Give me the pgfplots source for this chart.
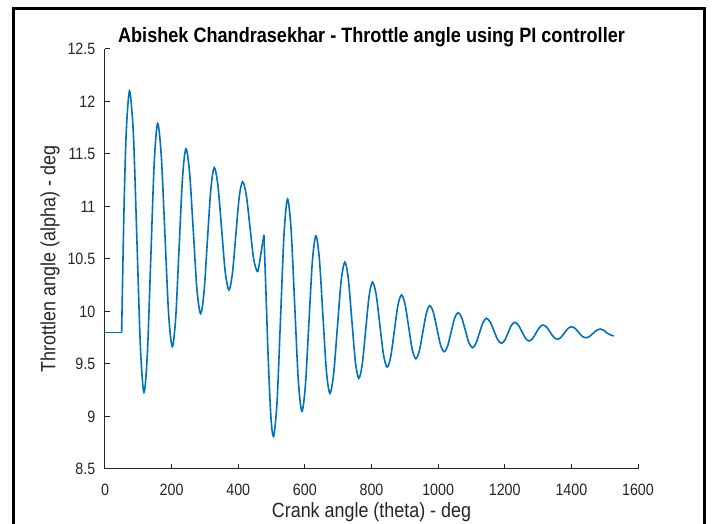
\documentclass[border=0pt]{standalone}
\usepackage{fontspec}
\setmainfont{Liberation Sans}[FakeStretch=0.87]
\usepackage{pgfplots}
\pgfplotsset{compat=1.18}
\definecolor{mlblue}{RGB}{0,114,189}
\definecolor{mlgray}{RGB}{38,38,38}

\begin{document}
\begin{tikzpicture}
\useasboundingbox (-52.5pt,-27.5pt) rectangle (304pt,234.5pt);
\fill[white] (-52.5pt,-27.5pt) rectangle (304pt,234.5pt);
\begin{axis}[
    at={(0,0)}, anchor=south west,
    scale only axis, width=266.5pt, height=210pt,
    xmin=0, xmax=1600, ymin=8.5, ymax=12.5,
    xtick={0,200,...,1600},
    ytick={8.5,9,9.5,10,10.5,11,11.5,12,12.5},
    axis lines=left,
    axis line style={-, mlgray, line width=0.5pt},
    tick style={mlgray, line width=0.5pt},
    tick align=inside, major tick length=2.5pt,
    scaled ticks=false,
    /pgf/number format/1000 sep={},
    /pgf/number format/assume math mode=true,
    tick label style={font=\fontsize{8.2}{9.8}\selectfont, text=mlgray},
    xticklabel style={yshift=-4pt},
    yticklabel style={xshift=-1.3pt},
    title={\textbf{Abishek Chandrasekhar - Throttle angle using PI controller}},
    title style={at={(axis description cs:0.5,1)}, anchor=base, yshift=-3pt,
        font=\fontsize{10.4}{12}\selectfont, text=black},
    xlabel={Crank angle (theta) - deg},
    xlabel style={at={(axis description cs:0.5,-0.1024)}, anchor=center,
        font=\fontsize{10.3}{12}\selectfont, text=mlgray},
    ylabel={Throttlen angle (alpha) - deg},
    ylabel style={at={(axis description cs:-0.1032,0.5)}, anchor=center,
        font=\fontsize{10.3}{12}\selectfont, text=mlgray},
]
\addplot[mlblue, line width=0.8pt] coordinates {(0,9.8) (50,9.8)};
% up to the sharp kink near 477
\addplot[mlblue, line width=0.8pt, smooth] coordinates {
  (50,9.80) (54,10.50) (58,11.10) (63,11.65) (69,11.98) (75,12.09)
  (85.5,11.672) (96,10.66) (106.5,9.648) (117,9.23)
  (127.25,9.604) (137.5,10.51) (147.75,11.416) (158,11.79)
  (169,11.48) (180,10.73) (191,9.975) (202,9.665)
  (212.25,9.94) (222.5,10.61) (232.75,11.275) (243,11.55)
  (254,11.32) (265,10.77) (276,10.21) (287,9.98)
  (297.25,10.183) (307.5,10.68) (317.75,11.167) (328,11.37)
  (339,11.2) (350,10.79) (361,10.375) (372,10.205)
  (382.25,10.356) (392.5,10.72) (402.75,11.085) (413,11.236)
  (424,11.111) (435,10.81) (446,10.505) (457,10.38)
  (462,10.43) (467,10.53) (472,10.63) (477,10.73)};
\addplot[mlblue, line width=0.8pt, smooth] coordinates {
  (477,10.73) (483,10.2) (490,9.55) (498,9.0) (506,8.81)
  (516.5,9.14) (527,9.94) (537.5,10.74) (548,11.07)
  (558.75,10.775) (569.5,10.06) (580.25,9.345) (591,9.05)
  (601.5,9.294) (612,9.885) (622.5,10.476) (633,10.72)
  (643.5,10.501) (654,9.97) (664.5,9.439) (675,9.22)
  (686.25,9.403) (697.5,9.845) (708.75,10.287) (720,10.47)
  (730.5,10.309) (741,9.917) (751.5,9.525) (762,9.364)
  (772.25,9.498) (782.5,9.822) (792.75,10.146) (803,10.28)
  (814,10.162) (825,9.875) (836,9.588) (847,9.47)
  (857.75,9.57) (868.5,9.814) (879.25,10.057) (890,10.157)
  (900.75,10.068) (911.5,9.854) (922.25,9.639) (933,9.55)
  (943.5,9.624) (954,9.803) (964.5,9.981) (975,10.055)
  (985.75,9.991) (996.5,9.836) (1007.25,9.681) (1018,9.617)
  (1028.5,9.671) (1039,9.804) (1049.5,9.936) (1060,9.99)
  (1070.75,9.941) (1081.5,9.823) (1092.25,9.704) (1103,9.655)
  (1113.5,9.696) (1124,9.795) (1134.5,9.894) (1145,9.935)
  (1156.25,9.9) (1167.5,9.816) (1178.75,9.732) (1190,9.697)
  (1200,9.726) (1210,9.797) (1220,9.868) (1230,9.897)
  (1240.75,9.871) (1251.5,9.809) (1262.25,9.746) (1273,9.72)
  (1283.5,9.742) (1294,9.796) (1304.5,9.849) (1315,9.871)
  (1325.75,9.851) (1336.5,9.803) (1347.25,9.755) (1358,9.735)
  (1368.5,9.753) (1379,9.795) (1389.5,9.837) (1400,9.855)
  (1410.75,9.84) (1421.5,9.803) (1432.25,9.765) (1443,9.75)
  (1454,9.762) (1465,9.792) (1476,9.821) (1487,9.833)
  (1497,9.821) (1507,9.795) (1517,9.778) (1527,9.767)};
\end{axis}
\draw[black, line width=1.5pt] (-45.75pt,-40pt) -- (-45.75pt,230.25pt)
    -- (299.75pt,230.25pt) -- (299.75pt,-40pt);
\end{tikzpicture}
\end{document}
